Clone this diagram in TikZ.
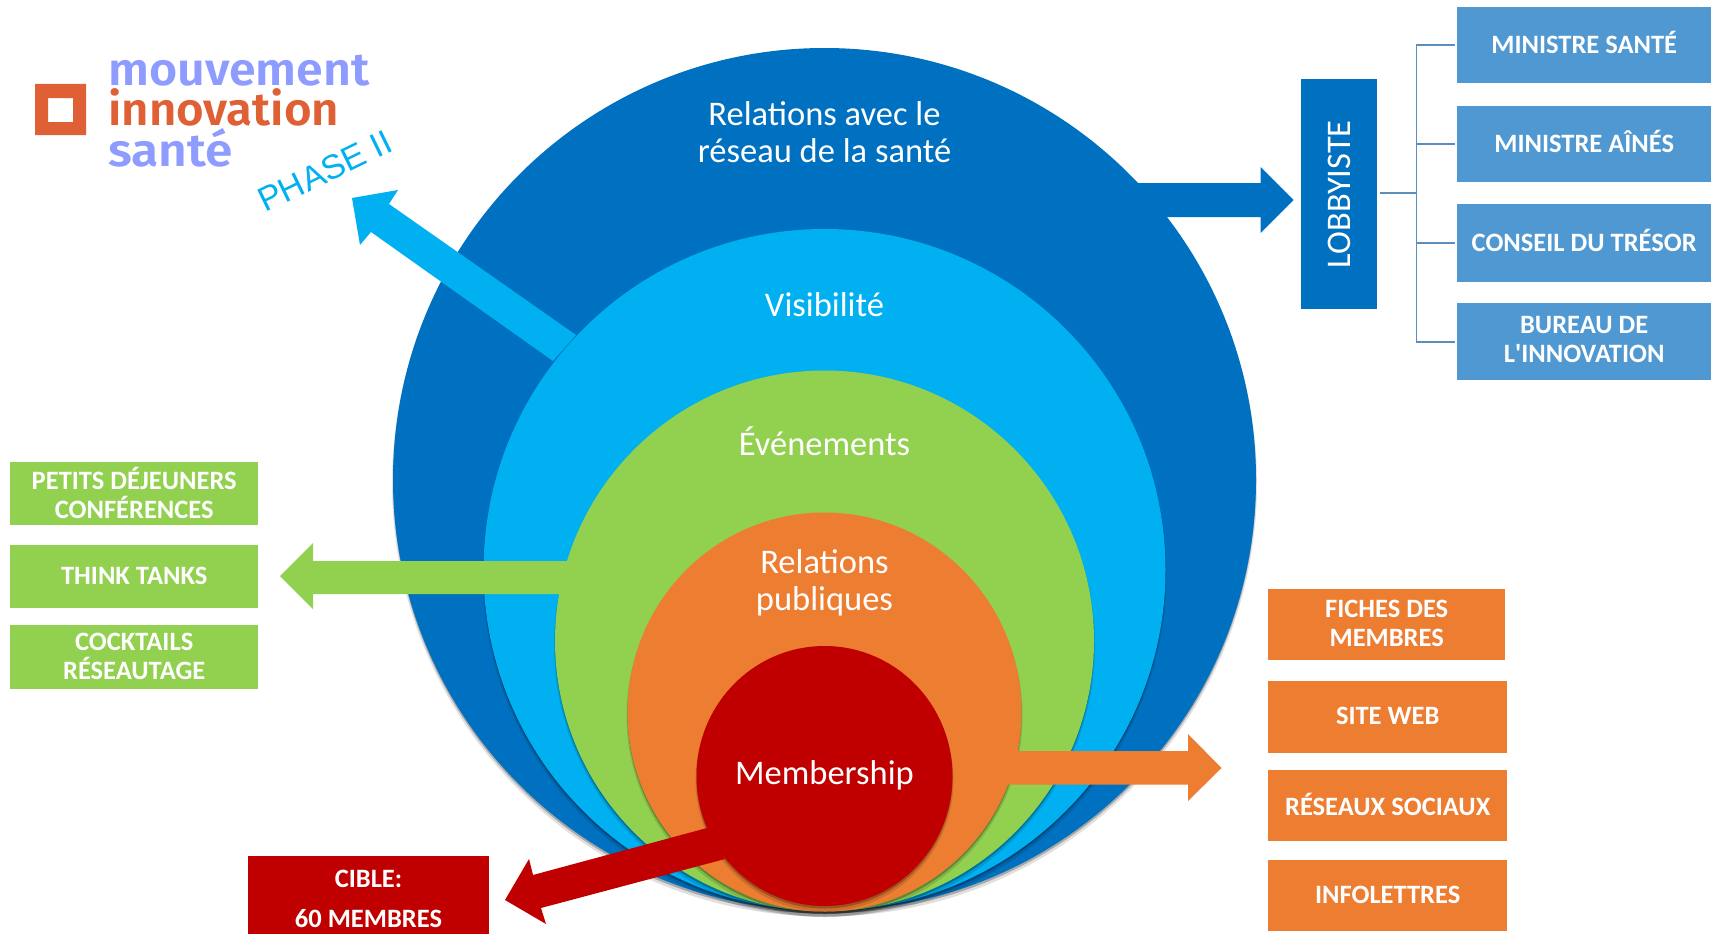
\documentclass[tikz,border=0pt]{standalone}
\usepackage{fontspec}
\setmainfont{Carlito}
\newfontfamily\plainfont{Carlito}
\newfontfamily\logofont{Fira Sans}[UprightFont=* Medium,BoldFont=* SemiBold]
\newfontfamily\arialfont{Liberation Sans}
\definecolor{cDark}{HTML}{0070C0}
\definecolor{cLight}{HTML}{00B0F0}
\definecolor{cGreen}{HTML}{92D050}
\definecolor{cOrange}{HTML}{ED7D31}
\definecolor{cRed}{HTML}{C00000}
\definecolor{cBox}{HTML}{4F98D1}
\definecolor{cLine}{HTML}{5B8DBD}
\definecolor{cLogoB}{HTML}{8E9BFF}
\definecolor{cLogoO}{HTML}{E06035}
\tikzset{
  tagbox/.style={rectangle,inner sep=0pt,anchor=north west,text=white,align=center,font=\fontsize{26.5}{29}\selectfont\bfseries},
  ringlabel/.style={text=white,align=center,inner sep=0pt,font=\fontsize{34.5}{37}\selectfont},
  logotext/.style={anchor=base west,inner sep=0pt,font=\fontsize{46}{46}\logofont\bfseries},
  branch/.style={draw=cLine,line width=1.8pt},
}
\newcommand{\ring}[5]{%
  \fill[black,opacity=.12] (#1,#2+4) ellipse[x radius=#3+1,y radius=#4+1.5];
  \fill[black,opacity=.25] (#1,#2+2.5) ellipse[x radius=#3,y radius=#4];
  \fill[#5] (#1,#2) ellipse[x radius=#3,y radius=#4];
}
\def\tagshift{2.5pt}
\newcommand{\tagb}[7]{%
  \path (#2,#3) node[tagbox,fill=#6,minimum width=#4pt-#2pt,minimum height=#5pt-#3pt] (#1) {};
  \node[text=white,align=center,inner sep=0pt,font=\fontsize{26.5}{29}\selectfont\bfseries] (#1t) at ([yshift=\tagshift]#1.center) {#7};
}
\begin{document}
\begin{tikzpicture}[x=1pt,y=-1pt]
\useasboundingbox (0,0) rectangle (1711,934);
% circles and arrows
\ring{824.5}{479.5}{431.5}{431.5}{cDark}
\fill[cDark] (1120,183) -- (1260.5,183) -- (1260.5,167) -- (1293.5,200) -- (1260.5,233) -- (1260.5,217) -- (1150,217) -- cycle;
\ring{824.5}{570}{341}{341}{cLight}
\fill[cLight] (576,335) -- (389,204) -- (398,190) -- (352,198) -- (360,245) -- (371,232) -- (553,361) -- cycle;
\ring{824.5}{641}{269.5}{270.5}{cGreen}
\fill[cGreen] (575,561) -- (313,561) -- (313,543) -- (280,576) -- (313,609) -- (313,594) -- (575,594) -- cycle;
\ring{824.5}{712}{197}{199.5}{cOrange}
\fill[cOrange] (950,751) -- (1188,751) -- (1188,734) -- (1221.5,768) -- (1188,801) -- (1188,784.5) -- (950,784.5) -- cycle;
\ring{824.5}{776}{128}{130}{cRed}
\fill[cRed] (707,828) -- (533,875) -- (529,859) -- (505,900) -- (546,924) -- (541,908) -- (725,859) -- cycle;
% ring labels
\node[ringlabel] (rSante) at (824.5,132) {Relations avec le\\réseau de la santé};
\node[ringlabel] (rVisi) at (824.5,305) {Visibilité};
\node[ringlabel] (rEven) at (824.5,441) {Événements};
\node[ringlabel] (rRel) at (824.5,583) {Relations\\publiques};
\node[ringlabel] (rMem) at (824.5,775) {Membership};
% lobbyiste
\node[rectangle,fill=cDark,inner sep=0pt,minimum width=76pt,minimum height=230pt,anchor=north west] (lob) at (1301,79) {};
\node[text=white,rotate=90,inner sep=0pt,font=\fontsize{34.5}{31}\selectfont] (lobT) at (lob.center) {LOBBYISTE};
\tagb{m1}{1457}{7}{1711}{83}{cBox}{MINISTRE SANTÉ}
\tagb{m2}{1457}{106}{1711}{182}{cBox}{MINISTRE AÎNÉS}
\tagb{m3}{1457}{204}{1711}{282}{cBox}{CONSEIL DU TRÉSOR}
\tagb{m4}{1457}{303}{1711}{380}{cBox}{BUREAU DE\\L{\plainfont\bfseries '}INNOVATION}
\coordinate (hub) at (1416.5,193);
\draw[branch] (1380,193) -- (hub);
\draw[branch] (1454.5,45) -- (1416.5,45) -- (1416.5,342) -- (1454.5,342);
\draw[branch] (1416.5,144) -- (1454.5,144);
\draw[branch] (1416.5,243) -- (1454.5,243);
% left
\def\tagshift{1pt}
\tagb{g1}{10}{462}{258}{525}{cGreen}{PETITS DÉJEUNERS\\CONFÉRENCES}
\tagb{g2}{10}{544.5}{258}{608}{cGreen}{THINK TANKS}
\tagb{g3}{10}{625}{258}{689}{cGreen}{COCKTAILS\\RÉSEAUTAGE}
% right
\tagb{o1}{1268}{589}{1505}{660}{cOrange}{FICHES DES\\MEMBRES}
\tagb{o2}{1268}{681}{1507}{753}{cOrange}{SITE WEB}
\tagb{o3}{1268}{770}{1507}{841}{cOrange}{RÉSEAUX SOCIAUX}
\tagb{o4}{1268}{860}{1507}{931}{cOrange}{INFOLETTRES}
% cible
\node[tagbox,fill=cRed,minimum width=241pt,minimum height=78pt] (cib) at (248,856) {};
\node[text=white,align=center,inner sep=0pt,font=\fontsize{26.5}{40}\selectfont\bfseries] (cibt) at (368.5,898.5) {CIBLE:\\60 MEMBRES};
% logo
\fill[cLogoO,even odd rule] (35,84) rectangle (86,135) (48,98) rectangle (73,122);
\node[logotext,text=cLogoB,xscale=1.05] (l1) at (108,85) {mouvement};
\node[logotext,text=cLogoO,xscale=1.03] (l2) at (108,125) {innovation};
\node[logotext,text=cLogoB,xscale=1.08] (l3) at (108,166) {santé};
\node[rotate=26,text=cLight,inner sep=0pt,font=\fontsize{34}{34}\arialfont] (ph) at (325,171) {PHASE II};
\end{tikzpicture}
\end{document}
